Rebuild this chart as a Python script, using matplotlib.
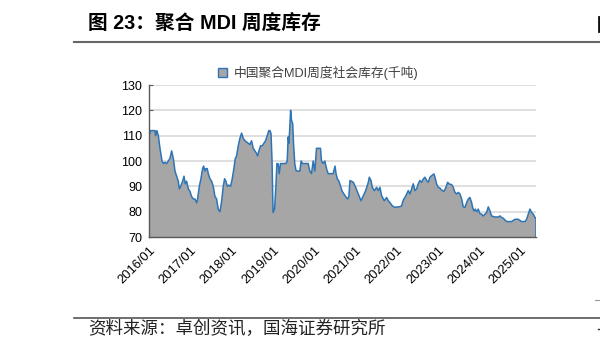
import matplotlib
matplotlib.use('Agg')
import matplotlib.pyplot as plt
from matplotlib.lines import Line2D
from matplotlib.patches import Patch
import numpy as np

plt.rcParams['font.family'] = ['Liberation Sans', 'Noto Sans CJK SC', 'DejaVu Sans']

# fractional year -> weekly inventory (kt)
years = [
    2016.000, 2016.040, 2016.145, 2016.160, 2016.190, 2016.226, 2016.266, 2016.315,
    2016.347, 2016.387, 2016.427, 2016.468, 2016.508, 2016.548, 2016.589, 2016.629,
    2016.669, 2016.710, 2016.734, 2016.766, 2016.815, 2016.847, 2016.879, 2016.911,
    2016.952, 2016.992, 2017.032, 2017.073, 2017.113, 2017.153, 2017.177, 2017.218,
    2017.258, 2017.298, 2017.323, 2017.355, 2017.379, 2017.411, 2017.435, 2017.476,
    2017.516, 2017.556, 2017.597, 2017.637, 2017.677, 2017.718, 2017.758, 2017.798,
    2017.831, 2017.863, 2017.895, 2017.935, 2017.976, 2018.016, 2018.056, 2018.089,
    2018.121, 2018.161, 2018.202, 2018.242, 2018.282, 2018.323, 2018.363, 2018.403,
    2018.444, 2018.484, 2018.524, 2018.565, 2018.605, 2018.629, 2018.661, 2018.702,
    2018.742, 2018.782, 2018.823, 2018.863, 2018.903, 2018.930, 2018.955, 2018.980,
    2019.004, 2019.040, 2019.073, 2019.097, 2019.129, 2019.153, 2019.185, 2019.250,
    2019.315, 2019.347, 2019.370, 2019.390, 2019.430, 2019.452, 2019.480, 2019.500,
    2019.530, 2019.560, 2019.613, 2019.653, 2019.685, 2019.718, 2019.774, 2019.815,
    2019.855, 2019.895, 2019.935, 2019.976, 2020.016, 2020.056, 2020.097, 2020.153,
    2020.177, 2020.218, 2020.258, 2020.298, 2020.339, 2020.379, 2020.460, 2020.504,
    2020.530, 2020.560, 2020.600, 2020.640, 2020.680, 2020.720, 2020.760, 2020.811,
    2020.840, 2020.867, 2020.948, 2021.004, 2021.069, 2021.134, 2021.190, 2021.247,
    2021.311, 2021.335, 2021.376, 2021.408, 2021.456, 2021.513, 2021.553, 2021.593,
    2021.634, 2021.698, 2021.755, 2021.795, 2021.835, 2021.892, 2021.956, 2022.077,
    2022.117, 2022.158, 2022.198, 2022.239, 2022.279, 2022.319, 2022.360, 2022.400,
    2022.440, 2022.481, 2022.521, 2022.561, 2022.602, 2022.642, 2022.683, 2022.723,
    2022.763, 2022.804, 2022.844, 2022.901, 2022.925, 2022.965, 2023.006, 2023.046,
    2023.087, 2023.143, 2023.191, 2023.232, 2023.272, 2023.329, 2023.369, 2023.409,
    2023.450, 2023.490, 2023.530, 2023.571, 2023.611, 2023.651, 2023.692, 2023.732,
    2023.772, 2023.813, 2023.837, 2023.869, 2023.902, 2023.934, 2023.974, 2024.015,
    2024.055, 2024.095, 2024.136, 2024.176, 2024.216, 2024.257, 2024.297, 2024.378,
    2024.458, 2024.499, 2024.539, 2024.579, 2024.660, 2024.781, 2024.862, 2024.943,
    2025.023, 2025.104, 2025.144, 2025.185, 2025.225, 2025.265, 2025.306, 2025.346,
    2025.372,
]
stock = [
    110, 112, 112, 110, 112, 110, 105, 100,
    99, 99.5, 99, 100, 101, 104, 101, 96,
    94, 92, 89, 90, 92, 94, 91, 92,
    89, 88, 86, 85, 85, 83.5, 85, 90,
    93, 97, 98, 96, 97, 97, 95, 93,
    92, 90, 86, 85, 81, 80, 84, 90,
    93, 92, 90, 90.5, 90, 93, 97, 101,
    102, 106, 109, 111, 109, 108, 107.5, 107,
    106.5, 108, 105, 104, 103, 102, 104, 106,
    106, 107, 108, 110, 112, 112, 110.8, 100,
    79.7, 81, 90, 99, 98.9, 95, 99, 99,
    99, 100, 109.5, 107, 120, 116, 114.7, 107,
    99, 96.2, 96, 96, 100, 99, 99, 99,
    99, 96, 95, 100, 96, 105, 105, 105,
    100, 99, 100, 97, 95, 95, 95, 98,
    95, 93, 92, 90, 88, 87, 86, 85,
    86, 92.3, 91.6, 89.6, 87, 84.3, 86.3, 88.3,
    91.6, 93.6, 92.3, 89.6, 88.3, 89.6, 88.3, 89.6,
    86.3, 84.3, 85.6, 84.3, 83.6, 82.3, 81.7, 82,
    82.3, 84.6, 85.6, 87, 88.3, 87, 89, 91,
    88.3, 89, 91, 92.3, 91.6, 92.9, 93.6, 92.3,
    91.6, 93.6, 94.2, 94.9, 93.6, 90.9, 89.6, 89.3,
    88.5, 88, 89.6, 91.6, 90.9, 90.7, 89.6, 87.6,
    87, 87.6, 87, 85, 81.9, 81.7, 83.6, 85,
    85.6, 83.6, 81.7, 80.3, 81, 80, 81, 79.2,
    79, 78.3, 79, 79.7, 81.9, 80.3, 78.3, 77.9,
    77.9, 78.3, 77.7, 77.4, 76.1, 76.1, 77, 77,
    76.1, 76.1, 77, 79, 81, 79.7, 79, 77.7,
    77.5,
]
tick_years = list(range(2016, 2026))
tick_labels = [f'{y}/01' for y in tick_years]

GREY = '#a6a6a6'
BLUE = '#2e75b6'
AXC = '#595959'

fig = plt.figure(figsize=(6, 3.45), dpi=100)
ax = fig.add_axes([149/600, 1-237/345, 387/600, 152/345])

ax.fill_between(years, stock, 70, facecolor=GREY, edgecolor='none', zorder=2)
ax.plot(years, stock, color=BLUE, lw=1.1, zorder=3)
ax.plot([years[-1], years[-1]], [stock[-1], 70], color=BLUE, lw=1.1, zorder=3)

ax.set_xlim(2016, years[-1])
ax.set_ylim(70, 130)
ax.set_yticks(range(70, 131, 10))
ax.set_xticks(tick_years)
ax.set_xticklabels(tick_labels, rotation=45, ha='right', va='top',
                   rotation_mode='anchor', fontsize=9.3)
ax.tick_params(axis='y', labelsize=9, direction='in', length=3, color=AXC, pad=5)
ax.tick_params(axis='x', direction='in', length=3, color=AXC, pad=5)
ax.grid(axis='y', color='#d9d9d9', lw=1.2, zorder=1)
ax.set_axisbelow(True)
for s in ['top', 'right']:
    ax.spines[s].set_visible(False)
for s in ['left', 'bottom']:
    ax.spines[s].set_color(AXC)
    ax.spines[s].set_linewidth(1.0)
    ax.spines[s].set_zorder(4)

fig.legend(handles=[Patch(facecolor=GREY, edgecolor=BLUE, lw=1)],
           labels=['中国聚合MDI周度社会库存(千吨)'],
           loc='center', bbox_to_anchor=(318/600, 1-73/345), frameon=False,
           fontsize=9.2, handlelength=0.7, handleheight=0.7, handletextpad=0.5,
           labelcolor='#404040')

fig.text(88/600, 1-24/345, '图 23：聚合 MDI 周度库存', fontsize=14.2, fontweight='bold',
         va='center', ha='left', family=['Liberation Sans', 'Noto Sans CJK SC'])
fig.add_artist(Line2D([74/600, 1], [1-42/345, 1-42/345], color='#666666', lw=1.5))
fig.add_artist(Line2D([74/600, 1], [1-318/345, 1-318/345], color='#555555', lw=1.2))
fig.text(88/600, 1-329/345, '资料来源：卓创资讯，国海证券研究所', fontsize=12.6,
         va='center', ha='left', color='#222222', family=['Noto Sans CJK SC'])

# fragments of the neighbouring column at the right edge
fig.add_artist(Line2D([598.5/600, 598.5/600], [1-17/345, 1-31/345], color='#111111', lw=2))
fig.add_artist(Line2D([595/600, 1], [1-300/345, 1-300/345], color='#999999', lw=0.8))
fig.add_artist(Line2D([598/600, 1], [1-329/345, 1-329/345], color='#333333', lw=1))

fig.savefig('out.png', dpi=100)
